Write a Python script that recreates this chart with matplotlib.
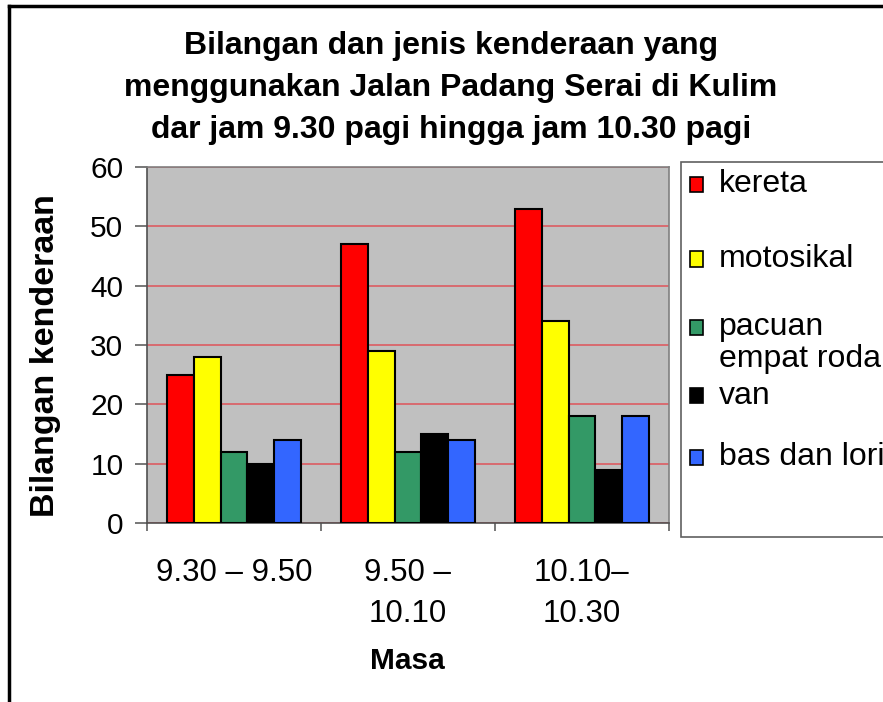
import matplotlib.pyplot as plt
import numpy as np
from matplotlib.lines import Line2D
from matplotlib.patches import Rectangle

plt.rcParams["font.family"] = ["Liberation Sans", "DejaVu Sans"]

periods = ["9.30 \u2013 9.50", "9.50 \u2013\n10.10", "10.10\u2013\n10.30"]
series = ["kereta", "motosikal", "pacuan\nempat roda", "van", "bas dan lori"]
kereta = [25, 47, 53]
motosikal = [28, 29, 34]
pacuan = [12, 12, 18]
van = [10, 15, 9]
bas_lori = [14, 14, 18]
colors = ["#ff0000", "#ffff00", "#339966", "#000000", "#3366ff"]

W, H = 883, 702


def fx(px):
    return px / W


def fy(py):
    return 1 - py / H


def main():
    fig = plt.figure(figsize=(W / 100, H / 100), dpi=100)
    ax = fig.add_axes([fx(147), fy(523), fx(669) - fx(147), fy(167) - fy(523)])

    values = [kereta, motosikal, pacuan, van, bas_lori]
    x = np.arange(len(periods))
    bw = 0.77 / len(series)
    for i, (vals, col) in enumerate(zip(values, colors)):
        off = (i - (len(series) - 1) / 2) * bw
        ax.bar(x + off, vals, width=bw, color=col, edgecolor="black",
               linewidth=1.5, zorder=3)

    ax.set_xlim(-0.5, len(periods) - 0.5)
    ax.set_ylim(0, 60)
    ax.set_facecolor("#c0c0c0")
    ax.set_yticks(np.arange(0, 61, 10))
    ax.yaxis.grid(True, color="#dc5c62", linewidth=1.2, zorder=1)
    ax.set_axisbelow(True)
    ax.tick_params(axis="y", labelsize=21.5, length=9, width=1.2,
                   color="#606060", pad=8, direction="out")
    ax.set_xticks(np.arange(len(periods) + 1) - 0.5)
    ax.set_xticklabels([])
    ax.set_xticks(x, minor=True)
    ax.set_xticklabels(periods, minor=True, fontsize=22.5, linespacing=1.5)
    ax.tick_params(axis="x", which="major", length=6, width=1.2,
                   color="#606060", direction="out")
    ax.tick_params(axis="x", which="minor", length=0, pad=25)
    for side in ["top", "right"]:
        ax.spines[side].set_color("#808080")
        ax.spines[side].set_linewidth(1.2)
    for side in ["left", "bottom"]:
        ax.spines[side].set_color("#505050")
        ax.spines[side].set_linewidth(1.2)

    fig.text(fx(46), fy(356), "Bilangan kenderaan", fontsize=24.5,
             fontweight="bold", rotation=90, ha="center", va="center")
    fig.text(fx(407), fy(661), "Masa", fontsize=21.5, fontweight="bold",
             ha="center", va="center")

    fig.text(fx(451), fy(88),
             "Bilangan dan jenis kenderaan yang\n"
             "menggunakan Jalan Padang Serai di Kulim\n"
             "dar jam 9.30 pagi hingga jam 10.30 pagi",
             fontsize=23, fontweight="bold", ha="center", va="center",
             linespacing=1.52)

    # legend box, drawn by hand to match the Excel layout
    fig.patches.append(Rectangle((fx(681), fy(537)), fx(900) - fx(681),
                                 fy(162) - fy(537), transform=fig.transFigure,
                                 facecolor="white", edgecolor="#606060",
                                 linewidth=1.2))
    handle_y = [184, 259, 327, 396, 457]
    text_y = [184, 259, 343, 396, 457]
    for lab, col, hy, ty in zip(series, colors, handle_y, text_y):
        fig.patches.append(Rectangle((fx(690), fy(hy + 7.5)), fx(13), 15 / H,
                                     transform=fig.transFigure, facecolor=col,
                                     edgecolor="black", linewidth=1.2))
        fig.text(fx(719), fy(ty), lab, fontsize=23, ha="left", va="center",
                 linespacing=1.05)

    # outer chart border (cut off at right and bottom)
    fig.add_artist(Line2D([fx(9), fx(9)], [fy(6), 0], color="black",
                          linewidth=2.5, transform=fig.transFigure))
    fig.add_artist(Line2D([fx(9), 1], [fy(6), fy(6)], color="black",
                          linewidth=2.5, transform=fig.transFigure))

    fig.savefig("out.png", dpi=100)


if __name__ == "__main__":
    main()
